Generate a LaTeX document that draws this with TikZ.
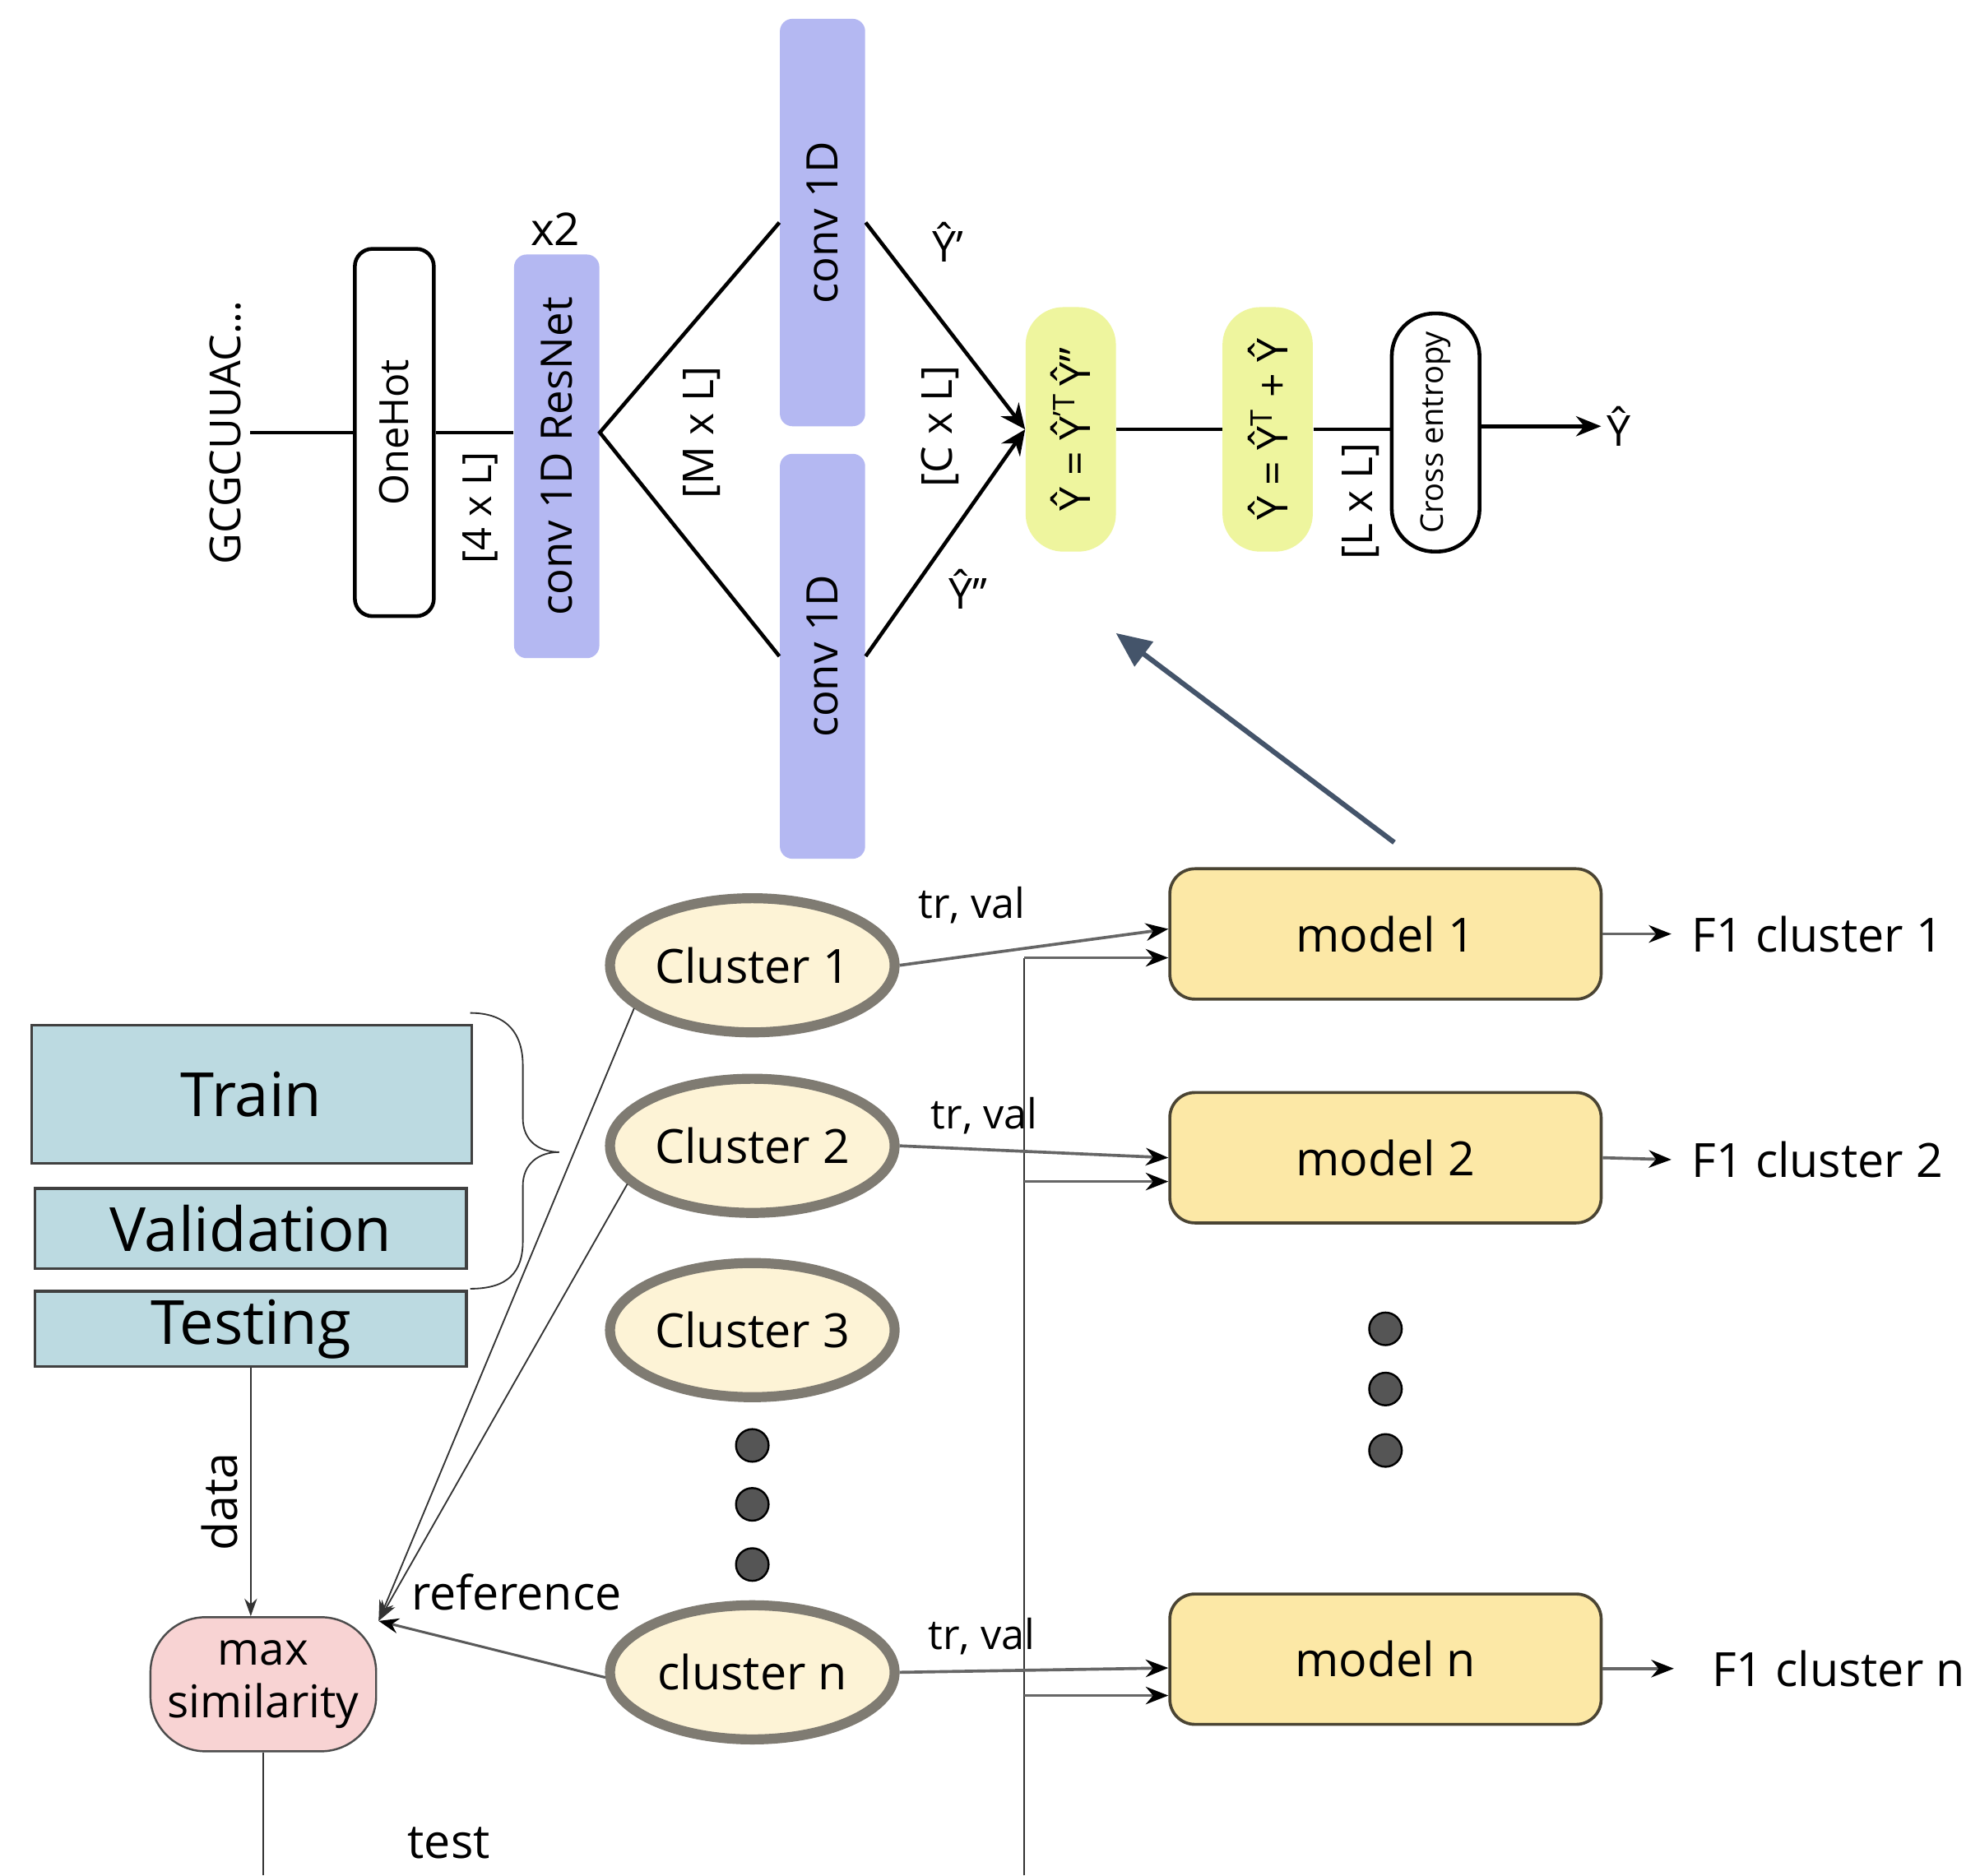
\documentclass[tikz,border=0pt]{standalone}
\usepackage{fontspec}
\setmainfont{Open Sans}
\usepackage{graphicx}
\usetikzlibrary{arrows.meta,calc,shapes.geometric}
\definecolor{lav}{HTML}{B4B8F2}
\definecolor{limef}{HTML}{EEF59E}
\definecolor{tbl}{HTML}{BCDAE1}
\definecolor{cream}{HTML}{FDF3D6}
\definecolor{cgray}{HTML}{7F7B72}
\definecolor{myel}{HTML}{FCE8A6}
\definecolor{mbord}{HTML}{4A4433}
\definecolor{pinkf}{HTML}{F8D3D3}
\definecolor{slate}{HTML}{44546A}
\definecolor{dotc}{HTML}{555555}
\newcommand{\fs}[1]{\fontsize{#1pt}{#1pt}\selectfont}
\begin{document}
\begin{tikzpicture}[x=0.5pt,y=-0.5pt,
  lavbox/.style={fill=lav, rounded corners=5pt, inner sep=0pt, minimum width=34pt, font=\fs{17.3}},
  limebox/.style={fill=limef, rounded corners=15pt, inner sep=0pt, minimum width=36pt, minimum height=97.5pt, font=\fs{17}},
  wbox/.style={draw, line width=1.5pt, fill=white, inner sep=0pt},
  topline/.style={line width=1.5pt},
  lbl/.style={font=\fs{17}},
  setbox/.style={draw=black!75, line width=1pt, fill=tbl, inner sep=0pt, font=\fs{24.3}},
  clus/.style={ellipse, draw=cgray, line width=4pt, fill=cream, minimum width=113.5pt, minimum height=53.5pt, inner sep=0pt, font=\fs{18.8}},
  model/.style={draw=mbord, line width=1.2pt, fill=myel, rounded corners=10pt, minimum width=172pt, minimum height=52pt, font=\fs{18.8}},
  thinln/.style={line width=0.6pt, draw=black!80},
  trv/.style={line width=1.2pt, draw=black!60, -{Stealth[length=9pt,width=7pt,black]}},
  dotn/.style={circle, fill=dotc, draw=black, line width=0.8pt, minimum size=13pt, inner sep=0pt},
  txt/.style={font=\fs{18.8}, text=black}
]
\useasboundingbox (0,0) rectangle (1568,1496);
\fill[white] (0,0) rectangle (1568,1496);

% ---------- top network ----------
\node[lbl] (seq) at (180,345) {\rotatebox{90}{GCGCUUAC...}};
\node[wbox, rounded corners=7pt, minimum width=31.5pt, minimum height=146.5pt, font=\fs{16}] (onehot) at (314.5,345) {\rotatebox{90}{OneHot}};
\node[lavbox, minimum height=161pt] (resnet) at (444,364) {\rotatebox{90}{conv 1D ResNet}};
\node[font=\fs{18}] (x2) at (443,183) {x2};
\node[font=\fs{16}] (l4) at (383,405) {\rotatebox{90}{[4 x L]}};
\node[lavbox, minimum height=162.5pt] (ct) at (656,177.5) {\rotatebox{90}{conv 1D}};
\node[lavbox, minimum height=161.5pt] (cb) at (656,523.5) {\rotatebox{90}{conv 1D}};
\node[lbl] (lM) at (560,345) {\rotatebox{90}{[M x L]}};
\node[limebox] (y1) at (854,342.5) {\rotatebox{90}{Ŷ = Ŷ\textsuperscript{’T}\,Ŷ’’}};
\node[lbl] (yp) at (756,193) {Ŷ’};
\node[lbl] (ypp) at (772,470) {Ŷ’’};
\node[lbl] (lC) at (750,340) {\rotatebox{90}{[C x L]}};
\node[limebox] (y2) at (1011,342.5) {\rotatebox{90}{Ŷ = Ŷ\textsuperscript{T} + Ŷ}};
\node[lbl] (lL) at (1085,400) {\rotatebox{90}{[L x L]}};
\node[wbox, rounded corners=17pt, minimum width=35pt, minimum height=95pt, font=\fs{12.5}] (ce) at (1145,345) {\rotatebox{90}{Cross entropy}};
\node[lbl, anchor=west, inner xsep=2pt] (yhat) at (1277,340) {Ŷ};

\draw[topline] (seq.east) -- (onehot.west);
\draw[topline] (onehot.east) -- (onehot.east -| resnet.west);
\coordinate (rj) at (onehot.east -| resnet.east);
\draw[topline] (ct.west) -- (rj) -- (cb.west);
\draw[topline, -{Stealth[length=10pt,width=9pt]}] (ct.east) -- (y1.west);
\draw[topline, -{Stealth[length=10pt,width=9pt]}] (cb.east) -- (y1.west);
\draw[topline] (y1.east) -- (y2.west);
\draw[topline] (y2.east) -- (y2.east -| ce.west);
\draw[topline, -{Stealth[length=10pt,width=8pt]}] (ce.east |- yhat.west) -- (yhat.west);

% big arrow
\coordinate (bs) at (1112,672);
\coordinate (be) at (890,505);
\draw[slate, line width=2pt, -{Triangle[length=14pt,width=12pt]}] (bs) -- (be);

% ---------- bottom ----------
\node[setbox, minimum width=175.5pt, minimum height=55pt] (train) at (200.5,873) {Train};
\node[setbox, minimum width=172pt, minimum height=32pt] (val) at (200,980) {Validation};
\node[setbox, minimum width=172pt, minimum height=30pt] (testb) at (200,1060) {Testing};
\draw[thinln] (375,808) .. controls (405,808) and (417,825) .. (417,850) -- (417,892)
  .. controls (417,910) and (430,919) .. (446,919)
  .. controls (430,919) and (417,928) .. (417,946) -- (417,990)
  .. controls (417,1015) and (405,1028) .. (375,1028);

\node[draw=black!70, line width=0.8pt, fill=pinkf, rounded corners=22pt, minimum width=90pt, minimum height=53.5pt, inner sep=0pt, align=center, font=\fontsize{18pt}{21pt}\selectfont] (maxsim) at (210,1343.5) {max\\similarity};
\node[txt] (datal) at (175,1198) {\rotatebox{90}{data}};
\draw[thinln, -{Stealth[length=7pt,width=5pt]}] (testb.south) -- (testb.south |- maxsim.north);
\coordinate (bot1) at (210,1496);
\draw[thinln] (maxsim.south) -- (bot1);
\node[txt] (testl) at (358,1470) {test};

\node[clus] (c1) at (600,770) {Cluster 1};
\node[clus] (c2) at (600,914) {Cluster 2};
\node[clus] (c3) at (600,1061) {Cluster 3};
\node[clus] (cn) at (600,1334) {cluster n};
\node[dotn] (d1) at (600,1153) {};
\node[dotn] (d2) at (600,1200) {};
\node[dotn] (d3) at (600,1248) {};
\node[dotn] (e1) at (1105,1060) {};
\node[dotn] (e2) at (1105,1108) {};
\node[dotn] (e3) at (1105,1157) {};

\node[model] (m1) at (1105,745) {model 1};
\node[model] (m2) at (1105,923.5) {model 2};
\node[model] (mn) at (1105,1323.5) {model n};

\coordinate (vb) at (817,1496);
\coordinate (m1a) at ($(m1.west)+(0,-4)$);
\coordinate (m1b) at ($(m1.west)+(0,19)$);
\coordinate (m2b) at ($(m2.west)+(0,19)$);
\coordinate (mna) at ($(mn.west)+(0,7)$);
\coordinate (mnb) at ($(mn.west)+(0,29)$);
\draw[thinln] (vb) -- (vb |- m1b);
\draw[trv] (vb |- m1b) -- (m1b);
\draw[trv] (vb |- m2b) -- (m2b);
\draw[trv] (vb |- mnb) -- (mnb);
\draw[trv] (c1.east) -- (m1a);
\draw[trv] (c2.east) -- (m2.west);
\draw[trv] (cn.east) -- (mna);
\node[font=\fs{16.5}] (tv1) at (775,722) {tr, val};
\node[font=\fs{16.5}] (tv2) at (785,890) {tr, val};
\node[font=\fs{16.5}] (tvn) at (783,1305) {tr, val};

\node[txt, anchor=west, inner xsep=8pt] (f1) at (1333,745) {F1 cluster 1};
\node[txt, anchor=west, inner xsep=8pt] (f2) at (1333,925) {F1 cluster 2};
\node[txt, anchor=west, inner xsep=15pt] (fn) at (1335,1331) {F1 cluster n};
\draw[trv] (m1.east) -- (f1.west);
\draw[trv] (m2.east) -- (f2.west);
\draw[trv] (mn.east |- fn.west) -- (fn.west);

\coordinate (refpt) at (302,1293);
\draw[thinln, -{Stealth[length=8pt,width=6pt]}] (c1.200) -- (refpt);
\draw[thinln, -{Stealth[length=8pt,width=6pt]}] (c2.197) -- (refpt);
\draw[line width=1pt, draw=black!65, -{Stealth[length=8pt,width=6pt,black]}] (cn.182) -- (refpt);
\node[txt] (refl) at (412,1270) {reference};
\end{tikzpicture}
\end{document}
